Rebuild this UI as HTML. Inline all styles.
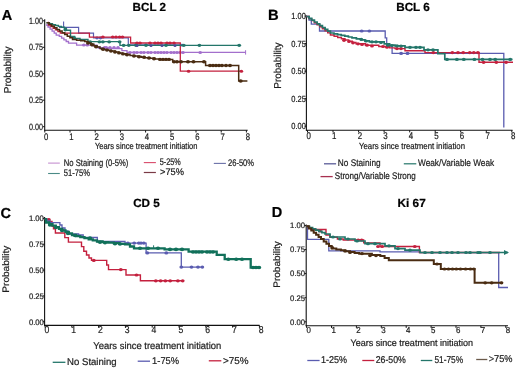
<!DOCTYPE html>
<html><head><meta charset="utf-8"><style>
html,body{margin:0;padding:0;background:#fff;}
svg{display:block;filter:blur(0.35px);}
text{font-family:"Liberation Sans", sans-serif;stroke:currentColor;stroke-width:0.22px;text-rendering:geometricPrecision;}
</style></head><body>
<svg width="520" height="368" viewBox="0 0 520 368">
<rect width="520" height="368" fill="#fff"/>
<text x="1.7" y="19.5" font-size="14.5" font-weight="bold" fill="#000" color="#000">A</text>
<text x="132.6" y="10.9" font-size="11.8" textLength="33.4" lengthAdjust="spacingAndGlyphs" font-weight="bold" fill="#000" color="#000">BCL 2</text>
<line x1="44.7" y1="19.2" x2="44.7" y2="130.8" stroke="#111" stroke-width="1.1"/>
<line x1="44.2" y1="130.3" x2="247.7" y2="130.3" stroke="#111" stroke-width="1.1"/>
<line x1="42.9" y1="20.8" x2="44.7" y2="20.8" stroke="#111" stroke-width="1.0"/>
<text x="43.1" y="23.9" font-size="9.0" text-anchor="end" textLength="14.0" lengthAdjust="spacingAndGlyphs" fill="#1e1e1e" color="#1e1e1e">1.00</text>
<line x1="42.9" y1="47.3" x2="44.7" y2="47.3" stroke="#111" stroke-width="1.0"/>
<text x="43.1" y="50.4" font-size="9.0" text-anchor="end" textLength="14.0" lengthAdjust="spacingAndGlyphs" fill="#1e1e1e" color="#1e1e1e">0.75</text>
<line x1="42.9" y1="73.8" x2="44.7" y2="73.8" stroke="#111" stroke-width="1.0"/>
<text x="43.1" y="76.9" font-size="9.0" text-anchor="end" textLength="14.0" lengthAdjust="spacingAndGlyphs" fill="#1e1e1e" color="#1e1e1e">0.50</text>
<line x1="42.9" y1="100.2" x2="44.7" y2="100.2" stroke="#111" stroke-width="1.0"/>
<text x="43.1" y="103.4" font-size="9.0" text-anchor="end" textLength="14.0" lengthAdjust="spacingAndGlyphs" fill="#1e1e1e" color="#1e1e1e">0.25</text>
<line x1="42.9" y1="126.7" x2="44.7" y2="126.7" stroke="#111" stroke-width="1.0"/>
<text x="43.1" y="129.8" font-size="9.0" text-anchor="end" textLength="14.0" lengthAdjust="spacingAndGlyphs" fill="#1e1e1e" color="#1e1e1e">0.00</text>
<line x1="44.8" y1="130.3" x2="44.8" y2="132.5" stroke="#111" stroke-width="1.0"/>
<text x="46.2" y="139.9" font-size="9.5" text-anchor="middle" textLength="4.3" lengthAdjust="spacingAndGlyphs" fill="#1e1e1e" color="#1e1e1e">0</text>
<line x1="70.0" y1="130.3" x2="70.0" y2="132.5" stroke="#111" stroke-width="1.0"/>
<text x="71.4" y="139.9" font-size="9.5" text-anchor="middle" textLength="4.3" lengthAdjust="spacingAndGlyphs" fill="#1e1e1e" color="#1e1e1e">1</text>
<line x1="95.2" y1="130.3" x2="95.2" y2="132.5" stroke="#111" stroke-width="1.0"/>
<text x="96.6" y="139.9" font-size="9.5" text-anchor="middle" textLength="4.3" lengthAdjust="spacingAndGlyphs" fill="#1e1e1e" color="#1e1e1e">2</text>
<line x1="120.4" y1="130.3" x2="120.4" y2="132.5" stroke="#111" stroke-width="1.0"/>
<text x="121.8" y="139.9" font-size="9.5" text-anchor="middle" textLength="4.3" lengthAdjust="spacingAndGlyphs" fill="#1e1e1e" color="#1e1e1e">3</text>
<line x1="145.6" y1="130.3" x2="145.6" y2="132.5" stroke="#111" stroke-width="1.0"/>
<text x="147.0" y="139.9" font-size="9.5" text-anchor="middle" textLength="4.3" lengthAdjust="spacingAndGlyphs" fill="#1e1e1e" color="#1e1e1e">4</text>
<line x1="170.8" y1="130.3" x2="170.8" y2="132.5" stroke="#111" stroke-width="1.0"/>
<text x="172.2" y="139.9" font-size="9.5" text-anchor="middle" textLength="4.3" lengthAdjust="spacingAndGlyphs" fill="#1e1e1e" color="#1e1e1e">5</text>
<line x1="196.0" y1="130.3" x2="196.0" y2="132.5" stroke="#111" stroke-width="1.0"/>
<text x="197.4" y="139.9" font-size="9.5" text-anchor="middle" textLength="4.3" lengthAdjust="spacingAndGlyphs" fill="#1e1e1e" color="#1e1e1e">6</text>
<line x1="221.2" y1="130.3" x2="221.2" y2="132.5" stroke="#111" stroke-width="1.0"/>
<text x="222.6" y="139.9" font-size="9.5" text-anchor="middle" textLength="4.3" lengthAdjust="spacingAndGlyphs" fill="#1e1e1e" color="#1e1e1e">7</text>
<line x1="246.4" y1="130.3" x2="246.4" y2="132.5" stroke="#111" stroke-width="1.0"/>
<text x="247.8" y="139.9" font-size="9.5" text-anchor="middle" textLength="4.3" lengthAdjust="spacingAndGlyphs" fill="#1e1e1e" color="#1e1e1e">8</text>
<text x="95.0" y="149.4" font-size="8.9" textLength="102.5" lengthAdjust="spacingAndGlyphs" fill="#1e1e1e" color="#1e1e1e">Years since treatment initiation</text>
<text transform="translate(10.6,69.9) rotate(-90) scale(1,1.0)" x="0" y="0" font-size="10" text-anchor="middle" textLength="46.8" lengthAdjust="spacingAndGlyphs" fill="#1e1e1e" color="#1e1e1e">Probability</text>
<line x1="48.1" y1="163.1" x2="59.8" y2="163.1" stroke="#c48fd0" stroke-width="1.1"/>
<text x="63.8" y="165.8" font-size="9.6" textLength="64.6" lengthAdjust="spacingAndGlyphs" fill="#1e1e1e" color="#1e1e1e">No Staining (0-5%)</text>
<line x1="48.1" y1="173.5" x2="59.8" y2="173.5" stroke="#4a8a86" stroke-width="1.1"/>
<text x="63.8" y="176.0" font-size="9.6" textLength="26.2" lengthAdjust="spacingAndGlyphs" fill="#1e1e1e" color="#1e1e1e">51-75%</text>
<line x1="143.8" y1="162.6" x2="155.9" y2="162.6" stroke="#d84a6a" stroke-width="1.1"/>
<text x="159.8" y="165.3" font-size="9.6" textLength="21.0" lengthAdjust="spacingAndGlyphs" fill="#1e1e1e" color="#1e1e1e">5-25%</text>
<line x1="143.8" y1="172.5" x2="155.9" y2="172.5" stroke="#7a3a45" stroke-width="1.2"/>
<text x="160.0" y="175.3" font-size="9.6" textLength="24.0" lengthAdjust="spacingAndGlyphs" fill="#1e1e1e" color="#1e1e1e">&gt;75%</text>
<line x1="213.8" y1="163.4" x2="225.9" y2="163.4" stroke="#6a70a8" stroke-width="1.1"/>
<text x="228.0" y="165.6" font-size="9.6" textLength="26.0" lengthAdjust="spacingAndGlyphs" fill="#1e1e1e" color="#1e1e1e">26-50%</text>
<line x1="63.6" y1="21.5" x2="63.6" y2="27.3" stroke="#5a5cb0" stroke-width="1.1"/>
<path d="M59.0,27.3 H78.6 V33.2 H93.5 V37.9 H128.3 V44.8 H182.0 V44.8" fill="none" stroke="#5a5cb0" stroke-width="1.2" stroke-linejoin="miter" opacity="1"/>
<ellipse cx="97.0" cy="38.0" rx="1.68" ry="1.40" fill="#5a5cb0"/>
<ellipse cx="100.5" cy="38.0" rx="1.68" ry="1.40" fill="#5a5cb0"/>
<ellipse cx="136.0" cy="44.8" rx="1.68" ry="1.40" fill="#5a5cb0"/>
<ellipse cx="146.0" cy="44.8" rx="1.68" ry="1.40" fill="#5a5cb0"/>
<ellipse cx="182.0" cy="45.2" rx="1.68" ry="1.40" fill="#5a5cb0"/>
<path d="M46.0,25.0 H48.0 V27.0 H50.1 V29.1 H52.1 V31.1 H54.2 V33.2 H56.2 V35.2 H59.3 V36.4 H61.6 V38.1 H63.9 V39.8 H66.2 V41.5 H68.5 V43.2 H76.6 V45.1 H97.0 V47.6 H108.0 V48.6 H121.9 V50.7 H127.0 V52.4 H245.6 V52.4" fill="none" stroke="#a36fcc" stroke-width="1.3" stroke-linejoin="miter" opacity="1"/>
<ellipse cx="83.8" cy="45.1" rx="1.80" ry="1.50" fill="#a36fcc"/>
<ellipse cx="87.3" cy="45.1" rx="1.80" ry="1.50" fill="#a36fcc"/>
<ellipse cx="92.5" cy="45.1" rx="1.80" ry="1.50" fill="#a36fcc"/>
<ellipse cx="99.4" cy="47.5" rx="1.80" ry="1.50" fill="#a36fcc"/>
<ellipse cx="104.6" cy="47.5" rx="1.80" ry="1.50" fill="#a36fcc"/>
<ellipse cx="106.3" cy="47.5" rx="1.80" ry="1.50" fill="#a36fcc"/>
<ellipse cx="110.0" cy="47.5" rx="1.80" ry="1.50" fill="#a36fcc"/>
<ellipse cx="114.0" cy="47.5" rx="1.80" ry="1.50" fill="#a36fcc"/>
<ellipse cx="118.0" cy="47.5" rx="1.80" ry="1.50" fill="#a36fcc"/>
<ellipse cx="130.0" cy="52.4" rx="1.80" ry="1.50" fill="#a36fcc"/>
<ellipse cx="134.0" cy="52.4" rx="1.80" ry="1.50" fill="#a36fcc"/>
<ellipse cx="137.0" cy="52.4" rx="1.80" ry="1.50" fill="#a36fcc"/>
<ellipse cx="141.0" cy="52.4" rx="1.80" ry="1.50" fill="#a36fcc"/>
<ellipse cx="144.0" cy="52.4" rx="1.80" ry="1.50" fill="#a36fcc"/>
<ellipse cx="148.0" cy="52.4" rx="1.80" ry="1.50" fill="#a36fcc"/>
<ellipse cx="151.0" cy="52.4" rx="1.80" ry="1.50" fill="#a36fcc"/>
<ellipse cx="155.0" cy="52.4" rx="1.80" ry="1.50" fill="#a36fcc"/>
<ellipse cx="158.0" cy="52.4" rx="1.80" ry="1.50" fill="#a36fcc"/>
<ellipse cx="161.0" cy="52.4" rx="1.80" ry="1.50" fill="#a36fcc"/>
<ellipse cx="164.0" cy="52.4" rx="1.80" ry="1.50" fill="#a36fcc"/>
<ellipse cx="167.0" cy="52.4" rx="1.80" ry="1.50" fill="#a36fcc"/>
<ellipse cx="171.0" cy="52.4" rx="1.80" ry="1.50" fill="#a36fcc"/>
<ellipse cx="174.0" cy="52.4" rx="1.80" ry="1.50" fill="#a36fcc"/>
<ellipse cx="177.0" cy="52.4" rx="1.80" ry="1.50" fill="#a36fcc"/>
<ellipse cx="180.0" cy="52.4" rx="1.80" ry="1.50" fill="#a36fcc"/>
<ellipse cx="183.0" cy="52.4" rx="1.80" ry="1.50" fill="#a36fcc"/>
<ellipse cx="200.2" cy="52.4" rx="1.80" ry="1.50" fill="#a36fcc"/>
<line x1="245.6" y1="50.2" x2="245.6" y2="54.6" stroke="#a36fcc" stroke-width="1.0"/>
<path d="M48.4,21.8 H48.4 V25.0 H50.8 V26.6 H53.2 V28.3 H55.5 V29.9 H57.9 V31.6 H60.3 V33.2 H89.4 V37.1 H130.6 V43.0 H180.3 V71.2 H241.4 V71.2" fill="none" stroke="#c4203e" stroke-width="1.3" stroke-linejoin="miter" opacity="1"/>
<ellipse cx="102.9" cy="37.0" rx="1.80" ry="1.50" fill="#c4203e"/>
<ellipse cx="112.7" cy="37.0" rx="1.80" ry="1.50" fill="#c4203e"/>
<ellipse cx="116.0" cy="37.0" rx="1.80" ry="1.50" fill="#c4203e"/>
<ellipse cx="119.6" cy="37.0" rx="1.80" ry="1.50" fill="#c4203e"/>
<ellipse cx="122.5" cy="37.0" rx="1.80" ry="1.50" fill="#c4203e"/>
<ellipse cx="137.0" cy="43.0" rx="1.80" ry="1.50" fill="#c4203e"/>
<ellipse cx="140.0" cy="43.0" rx="1.80" ry="1.50" fill="#c4203e"/>
<ellipse cx="150.0" cy="43.0" rx="1.80" ry="1.50" fill="#c4203e"/>
<ellipse cx="155.0" cy="43.0" rx="1.80" ry="1.50" fill="#c4203e"/>
<ellipse cx="158.0" cy="43.0" rx="1.80" ry="1.50" fill="#c4203e"/>
<ellipse cx="161.0" cy="43.0" rx="1.80" ry="1.50" fill="#c4203e"/>
<ellipse cx="167.0" cy="43.0" rx="1.80" ry="1.50" fill="#c4203e"/>
<ellipse cx="170.0" cy="43.0" rx="1.80" ry="1.50" fill="#c4203e"/>
<ellipse cx="174.0" cy="43.0" rx="1.80" ry="1.50" fill="#c4203e"/>
<ellipse cx="188.6" cy="71.2" rx="1.80" ry="1.50" fill="#c4203e"/>
<ellipse cx="241.4" cy="71.2" rx="1.80" ry="1.50" fill="#c4203e"/>
<path d="M46.5,22.8 H49.5 V23.7 H52.5 V24.6 H55.5 V25.5 H58.4 V26.4 H61.4 V27.3 H64.4 V28.2 H66.4 V30.3 H70.5 V36.4 H74.6 V38.5 H80.0 V39.5 H88.0 V41.6 H120.0 V45.4 H239.2 V45.4" fill="none" stroke="#23766a" stroke-width="1.4" stroke-linejoin="miter" opacity="1"/>
<ellipse cx="65.3" cy="29.8" rx="1.92" ry="1.60" fill="#23766a"/>
<ellipse cx="74.0" cy="37.5" rx="1.92" ry="1.60" fill="#23766a"/>
<ellipse cx="90.2" cy="41.8" rx="1.92" ry="1.60" fill="#23766a"/>
<ellipse cx="99.4" cy="41.8" rx="1.92" ry="1.60" fill="#23766a"/>
<ellipse cx="102.9" cy="41.8" rx="1.92" ry="1.60" fill="#23766a"/>
<ellipse cx="109.2" cy="41.8" rx="1.92" ry="1.60" fill="#23766a"/>
<ellipse cx="119.6" cy="41.8" rx="1.92" ry="1.60" fill="#23766a"/>
<ellipse cx="123.6" cy="45.3" rx="1.92" ry="1.60" fill="#23766a"/>
<ellipse cx="128.8" cy="45.3" rx="1.92" ry="1.60" fill="#23766a"/>
<ellipse cx="136.0" cy="45.3" rx="1.92" ry="1.60" fill="#23766a"/>
<ellipse cx="146.0" cy="45.3" rx="1.92" ry="1.60" fill="#23766a"/>
<ellipse cx="166.0" cy="45.3" rx="1.92" ry="1.60" fill="#23766a"/>
<ellipse cx="183.8" cy="45.3" rx="1.92" ry="1.60" fill="#23766a"/>
<ellipse cx="199.4" cy="45.3" rx="1.92" ry="1.60" fill="#23766a"/>
<ellipse cx="239.2" cy="45.3" rx="1.92" ry="1.60" fill="#23766a"/>
<ellipse cx="137.0" cy="45.7" rx="1.56" ry="1.30" fill="#4a4a98"/>
<ellipse cx="151.0" cy="45.7" rx="1.56" ry="1.30" fill="#4a4a98"/>
<ellipse cx="162.0" cy="45.7" rx="1.56" ry="1.30" fill="#4a4a98"/>
<ellipse cx="175.0" cy="45.7" rx="1.56" ry="1.30" fill="#4a4a98"/>
<path d="M46.5,22.8 H49.1 V24.5 H51.7 V26.1 H54.3 V27.8 H56.9 V29.5 H59.5 V31.1 H62.1 V32.8 H64.7 V34.5 H67.3 V36.2 H69.9 V37.8 H72.5 V39.5 H76.6 V40.2 H80.7 V40.8 H84.8 V41.5 H87.8 V42.9 H90.9 V44.3 H93.9 V45.7 H97.0 V47.1 H100.0 V48.5 H103.8 V49.4 H107.5 V50.2 H111.2 V51.1 H115.0 V52.0 H118.8 V52.9 H122.5 V53.8 H126.2 V54.6 H130.0 V55.5 H133.8 V56.1 H137.5 V56.6 H141.2 V57.2 H145.0 V57.8 H149.9 V58.3 H154.7 V58.9 H159.6 V59.4 H172.7 V61.8 H205.6 V65.5 H238.7 V81.0 H247.4 V81.0" fill="none" stroke="#4a2c12" stroke-width="1.5" stroke-linejoin="miter" opacity="1"/>
<ellipse cx="88.0" cy="43.0" rx="2.04" ry="1.70" fill="#4a2c12"/>
<ellipse cx="92.0" cy="44.8" rx="2.04" ry="1.70" fill="#4a2c12"/>
<ellipse cx="96.0" cy="46.7" rx="2.04" ry="1.70" fill="#4a2c12"/>
<ellipse cx="103.0" cy="49.2" rx="2.04" ry="1.70" fill="#4a2c12"/>
<ellipse cx="107.0" cy="50.1" rx="2.04" ry="1.70" fill="#4a2c12"/>
<ellipse cx="111.0" cy="51.1" rx="2.04" ry="1.70" fill="#4a2c12"/>
<ellipse cx="115.0" cy="52.0" rx="2.04" ry="1.70" fill="#4a2c12"/>
<ellipse cx="119.0" cy="52.9" rx="2.04" ry="1.70" fill="#4a2c12"/>
<ellipse cx="123.0" cy="53.9" rx="2.04" ry="1.70" fill="#4a2c12"/>
<ellipse cx="127.0" cy="54.8" rx="2.04" ry="1.70" fill="#4a2c12"/>
<ellipse cx="134.0" cy="56.0" rx="2.04" ry="1.70" fill="#4a2c12"/>
<ellipse cx="139.0" cy="56.7" rx="2.04" ry="1.70" fill="#4a2c12"/>
<ellipse cx="144.0" cy="57.3" rx="2.04" ry="1.70" fill="#4a2c12"/>
<ellipse cx="149.0" cy="58.0" rx="2.04" ry="1.70" fill="#4a2c12"/>
<ellipse cx="154.0" cy="58.7" rx="2.04" ry="1.70" fill="#4a2c12"/>
<ellipse cx="160.0" cy="59.4" rx="2.04" ry="1.70" fill="#4a2c12"/>
<ellipse cx="163.0" cy="59.4" rx="2.04" ry="1.70" fill="#4a2c12"/>
<ellipse cx="166.0" cy="59.4" rx="2.04" ry="1.70" fill="#4a2c12"/>
<ellipse cx="169.0" cy="59.4" rx="2.04" ry="1.70" fill="#4a2c12"/>
<ellipse cx="174.0" cy="61.8" rx="2.04" ry="1.70" fill="#4a2c12"/>
<ellipse cx="177.0" cy="61.8" rx="2.04" ry="1.70" fill="#4a2c12"/>
<ellipse cx="181.0" cy="61.8" rx="2.04" ry="1.70" fill="#4a2c12"/>
<ellipse cx="188.0" cy="61.8" rx="2.04" ry="1.70" fill="#4a2c12"/>
<ellipse cx="193.5" cy="61.8" rx="2.04" ry="1.70" fill="#4a2c12"/>
<ellipse cx="204.0" cy="61.8" rx="2.04" ry="1.70" fill="#4a2c12"/>
<ellipse cx="210.0" cy="65.5" rx="2.04" ry="1.70" fill="#4a2c12"/>
<ellipse cx="213.0" cy="65.5" rx="2.04" ry="1.70" fill="#4a2c12"/>
<ellipse cx="216.0" cy="65.5" rx="2.04" ry="1.70" fill="#4a2c12"/>
<ellipse cx="219.0" cy="65.5" rx="2.04" ry="1.70" fill="#4a2c12"/>
<ellipse cx="222.0" cy="65.5" rx="2.04" ry="1.70" fill="#4a2c12"/>
<ellipse cx="226.0" cy="65.5" rx="2.04" ry="1.70" fill="#4a2c12"/>
<ellipse cx="230.0" cy="65.5" rx="2.04" ry="1.70" fill="#4a2c12"/>
<ellipse cx="240.7" cy="81.0" rx="2.04" ry="1.70" fill="#4a2c12"/>
<text x="267.9" y="19.8" font-size="14.8" font-weight="bold" fill="#000" color="#000">B</text>
<text x="396.2" y="11.1" font-size="11.8" textLength="33.6" lengthAdjust="spacingAndGlyphs" font-weight="bold" fill="#000" color="#000">BCL 6</text>
<line x1="306.4" y1="15.4" x2="306.4" y2="130.7" stroke="#111" stroke-width="1.1"/>
<line x1="305.9" y1="130.2" x2="512.6" y2="130.2" stroke="#111" stroke-width="1.1"/>
<line x1="304.6" y1="16.1" x2="306.4" y2="16.1" stroke="#111" stroke-width="1.0"/>
<text x="305.9" y="19.2" font-size="8.8" text-anchor="end" textLength="14.6" lengthAdjust="spacingAndGlyphs" fill="#1e1e1e" color="#1e1e1e">1.00</text>
<line x1="304.6" y1="43.6" x2="306.4" y2="43.6" stroke="#111" stroke-width="1.0"/>
<text x="305.9" y="46.7" font-size="8.8" text-anchor="end" textLength="14.6" lengthAdjust="spacingAndGlyphs" fill="#1e1e1e" color="#1e1e1e">0.75</text>
<line x1="304.6" y1="71.2" x2="306.4" y2="71.2" stroke="#111" stroke-width="1.0"/>
<text x="305.9" y="74.2" font-size="8.8" text-anchor="end" textLength="14.6" lengthAdjust="spacingAndGlyphs" fill="#1e1e1e" color="#1e1e1e">0.50</text>
<line x1="304.6" y1="98.7" x2="306.4" y2="98.7" stroke="#111" stroke-width="1.0"/>
<text x="305.9" y="101.8" font-size="8.8" text-anchor="end" textLength="14.6" lengthAdjust="spacingAndGlyphs" fill="#1e1e1e" color="#1e1e1e">0.25</text>
<line x1="304.6" y1="126.2" x2="306.4" y2="126.2" stroke="#111" stroke-width="1.0"/>
<text x="305.9" y="129.3" font-size="8.8" text-anchor="end" textLength="14.6" lengthAdjust="spacingAndGlyphs" fill="#1e1e1e" color="#1e1e1e">0.00</text>
<line x1="307.5" y1="130.2" x2="307.5" y2="132.4" stroke="#111" stroke-width="1.0"/>
<text x="308.8" y="139.3" font-size="9.7" text-anchor="middle" textLength="4.4" lengthAdjust="spacingAndGlyphs" fill="#1e1e1e" color="#1e1e1e">0</text>
<line x1="333.0" y1="130.2" x2="333.0" y2="132.4" stroke="#111" stroke-width="1.0"/>
<text x="334.3" y="139.3" font-size="9.7" text-anchor="middle" textLength="4.4" lengthAdjust="spacingAndGlyphs" fill="#1e1e1e" color="#1e1e1e">1</text>
<line x1="358.6" y1="130.2" x2="358.6" y2="132.4" stroke="#111" stroke-width="1.0"/>
<text x="359.9" y="139.3" font-size="9.7" text-anchor="middle" textLength="4.4" lengthAdjust="spacingAndGlyphs" fill="#1e1e1e" color="#1e1e1e">2</text>
<line x1="384.1" y1="130.2" x2="384.1" y2="132.4" stroke="#111" stroke-width="1.0"/>
<text x="385.4" y="139.3" font-size="9.7" text-anchor="middle" textLength="4.4" lengthAdjust="spacingAndGlyphs" fill="#1e1e1e" color="#1e1e1e">3</text>
<line x1="409.7" y1="130.2" x2="409.7" y2="132.4" stroke="#111" stroke-width="1.0"/>
<text x="411.0" y="139.3" font-size="9.7" text-anchor="middle" textLength="4.4" lengthAdjust="spacingAndGlyphs" fill="#1e1e1e" color="#1e1e1e">4</text>
<line x1="435.2" y1="130.2" x2="435.2" y2="132.4" stroke="#111" stroke-width="1.0"/>
<text x="436.5" y="139.3" font-size="9.7" text-anchor="middle" textLength="4.4" lengthAdjust="spacingAndGlyphs" fill="#1e1e1e" color="#1e1e1e">5</text>
<line x1="460.7" y1="130.2" x2="460.7" y2="132.4" stroke="#111" stroke-width="1.0"/>
<text x="462.0" y="139.3" font-size="9.7" text-anchor="middle" textLength="4.4" lengthAdjust="spacingAndGlyphs" fill="#1e1e1e" color="#1e1e1e">6</text>
<line x1="486.3" y1="130.2" x2="486.3" y2="132.4" stroke="#111" stroke-width="1.0"/>
<text x="487.6" y="139.3" font-size="9.7" text-anchor="middle" textLength="4.4" lengthAdjust="spacingAndGlyphs" fill="#1e1e1e" color="#1e1e1e">7</text>
<line x1="511.8" y1="130.2" x2="511.8" y2="132.4" stroke="#111" stroke-width="1.0"/>
<text x="513.1" y="139.3" font-size="9.7" text-anchor="middle" textLength="4.4" lengthAdjust="spacingAndGlyphs" fill="#1e1e1e" color="#1e1e1e">8</text>
<text x="359.0" y="149.2" font-size="8.9" textLength="106.0" lengthAdjust="spacingAndGlyphs" fill="#1e1e1e" color="#1e1e1e">Years since treatment initiation</text>
<text transform="translate(280.6,65.6) rotate(-90) scale(1,1.0)" x="0" y="0" font-size="10" text-anchor="middle" textLength="46.2" lengthAdjust="spacingAndGlyphs" fill="#1e1e1e" color="#1e1e1e">Probability</text>
<line x1="324.0" y1="163.8" x2="336.1" y2="163.8" stroke="#5a5c98" stroke-width="1.3"/>
<text x="337.8" y="165.9" font-size="9.6" textLength="42.8" lengthAdjust="spacingAndGlyphs" fill="#1e1e1e" color="#1e1e1e">No Staining</text>
<line x1="403.8" y1="163.8" x2="416.3" y2="163.8" stroke="#23766a" stroke-width="1.2"/>
<text x="418.0" y="166.0" font-size="9.6" textLength="76.2" lengthAdjust="spacingAndGlyphs" fill="#1e1e1e" color="#1e1e1e">Weak/Variable Weak</text>
<line x1="320.5" y1="176.6" x2="332.7" y2="176.6" stroke="#a83050" stroke-width="1.3"/>
<text x="334.8" y="178.6" font-size="9.6" textLength="81.0" lengthAdjust="spacingAndGlyphs" fill="#1e1e1e" color="#1e1e1e">Strong/Variable Strong</text>
<path d="M306.4,16.5 H309.0 V20.0 H311.3 V24.2 H319.5 V31.0 H385.2 V37.9 H386.7 V46.0 H392.1 V53.4 H503.8 V127.5" fill="none" stroke="#5a5cb0" stroke-width="1.3" stroke-linejoin="miter" opacity="1"/>
<ellipse cx="361.7" cy="31.0" rx="1.92" ry="1.60" fill="#5a5cb0"/>
<ellipse cx="369.4" cy="31.0" rx="1.92" ry="1.60" fill="#5a5cb0"/>
<ellipse cx="401.1" cy="53.4" rx="1.92" ry="1.60" fill="#5a5cb0"/>
<ellipse cx="407.5" cy="53.4" rx="1.92" ry="1.60" fill="#5a5cb0"/>
<path d="M306.4,16.5 H309.1 V18.6 H311.7 V20.6 H314.4 V22.7 H317.1 V24.7 H319.7 V26.8 H322.4 V28.8 H325.1 V30.9 H327.7 V32.9 H330.4 V35.0 H334.1 V36.3 H337.7 V37.5 H341.4 V38.8 H345.0 V40.0 H348.7 V41.3 H352.3 V42.5 H356.0 V43.8 H365.4 V45.2 H378.8 V46.5 H389.6 V47.9 H395.0 V48.6 H405.0 V50.8 H425.0 V52.6 H479.0 V62.3 H513.0 V62.3" fill="none" stroke="#c4203e" stroke-width="1.4" stroke-linejoin="miter" opacity="1"/>
<ellipse cx="344.0" cy="40.3" rx="1.92" ry="1.60" fill="#c4203e"/>
<ellipse cx="349.0" cy="41.5" rx="1.92" ry="1.60" fill="#c4203e"/>
<ellipse cx="353.0" cy="42.8" rx="1.92" ry="1.60" fill="#c4203e"/>
<ellipse cx="358.0" cy="43.8" rx="1.92" ry="1.60" fill="#c4203e"/>
<ellipse cx="362.0" cy="44.5" rx="1.92" ry="1.60" fill="#c4203e"/>
<ellipse cx="367.0" cy="45.2" rx="1.92" ry="1.60" fill="#c4203e"/>
<ellipse cx="372.0" cy="46.0" rx="1.92" ry="1.60" fill="#c4203e"/>
<ellipse cx="383.0" cy="46.5" rx="1.92" ry="1.60" fill="#c4203e"/>
<ellipse cx="387.0" cy="47.2" rx="1.92" ry="1.60" fill="#c4203e"/>
<ellipse cx="397.0" cy="48.6" rx="1.92" ry="1.60" fill="#c4203e"/>
<ellipse cx="401.0" cy="48.6" rx="1.92" ry="1.60" fill="#c4203e"/>
<ellipse cx="433.3" cy="52.6" rx="1.92" ry="1.60" fill="#c4203e"/>
<ellipse cx="452.3" cy="52.6" rx="1.92" ry="1.60" fill="#c4203e"/>
<ellipse cx="458.0" cy="52.6" rx="1.92" ry="1.60" fill="#c4203e"/>
<ellipse cx="463.2" cy="52.6" rx="1.92" ry="1.60" fill="#c4203e"/>
<ellipse cx="469.8" cy="52.6" rx="1.92" ry="1.60" fill="#c4203e"/>
<ellipse cx="473.8" cy="52.6" rx="1.92" ry="1.60" fill="#c4203e"/>
<ellipse cx="477.9" cy="52.6" rx="1.92" ry="1.60" fill="#c4203e"/>
<ellipse cx="483.6" cy="62.3" rx="1.92" ry="1.60" fill="#c4203e"/>
<ellipse cx="496.3" cy="62.3" rx="1.92" ry="1.60" fill="#c4203e"/>
<ellipse cx="506.1" cy="62.3" rx="1.92" ry="1.60" fill="#c4203e"/>
<path d="M306.4,16.5 H309.1 V18.3 H311.7 V20.2 H314.4 V22.0 H317.1 V23.8 H319.7 V25.7 H322.4 V27.5 H325.1 V29.3 H327.7 V31.2 H330.4 V33.0 H334.0 V33.8 H337.6 V34.6 H341.2 V35.4 H344.8 V36.2 H348.4 V37.0 H352.0 V37.8 H356.4 V38.8 H360.7 V39.8 H365.0 V40.8 H369.4 V41.8 H378.8 V41.8 H384.2 V43.8 H389.6 V45.2 H395.0 V45.9 H405.0 V47.3 H424.0 V49.8 H437.9 V53.6 H444.8 V59.4 H512.5 V59.4" fill="none" stroke="#23766a" stroke-width="1.7" stroke-linejoin="miter" opacity="1"/>
<ellipse cx="361.3" cy="39.3" rx="1.92" ry="1.60" fill="#23766a"/>
<ellipse cx="366.0" cy="41.0" rx="1.92" ry="1.60" fill="#23766a"/>
<ellipse cx="372.0" cy="41.8" rx="1.92" ry="1.60" fill="#23766a"/>
<ellipse cx="376.0" cy="41.8" rx="1.92" ry="1.60" fill="#23766a"/>
<ellipse cx="381.0" cy="42.5" rx="1.92" ry="1.60" fill="#23766a"/>
<ellipse cx="388.0" cy="45.2" rx="1.92" ry="1.60" fill="#23766a"/>
<ellipse cx="392.0" cy="45.5" rx="1.92" ry="1.60" fill="#23766a"/>
<ellipse cx="397.0" cy="45.9" rx="1.92" ry="1.60" fill="#23766a"/>
<ellipse cx="401.0" cy="46.0" rx="1.92" ry="1.60" fill="#23766a"/>
<ellipse cx="410.0" cy="47.3" rx="1.92" ry="1.60" fill="#23766a"/>
<ellipse cx="416.0" cy="47.3" rx="1.92" ry="1.60" fill="#23766a"/>
<ellipse cx="420.0" cy="47.3" rx="1.92" ry="1.60" fill="#23766a"/>
<ellipse cx="428.0" cy="49.8" rx="1.92" ry="1.60" fill="#23766a"/>
<ellipse cx="433.0" cy="49.8" rx="1.92" ry="1.60" fill="#23766a"/>
<ellipse cx="447.0" cy="59.4" rx="1.92" ry="1.60" fill="#23766a"/>
<ellipse cx="456.9" cy="59.4" rx="1.92" ry="1.60" fill="#23766a"/>
<ellipse cx="463.8" cy="59.4" rx="1.92" ry="1.60" fill="#23766a"/>
<ellipse cx="474.4" cy="59.4" rx="1.92" ry="1.60" fill="#23766a"/>
<ellipse cx="482.5" cy="59.4" rx="1.92" ry="1.60" fill="#23766a"/>
<ellipse cx="490.0" cy="59.4" rx="1.92" ry="1.60" fill="#23766a"/>
<ellipse cx="495.2" cy="59.4" rx="1.92" ry="1.60" fill="#23766a"/>
<ellipse cx="510.2" cy="59.4" rx="1.92" ry="1.60" fill="#23766a"/>
<text x="0.4" y="217.9" font-size="14.5" font-weight="bold" fill="#000" color="#000">C</text>
<text x="133.2" y="206.9" font-size="11.8" textLength="26.6" lengthAdjust="spacingAndGlyphs" font-weight="bold" fill="#000" color="#000">CD 5</text>
<line x1="44.6" y1="216.9" x2="44.6" y2="325.9" stroke="#111" stroke-width="1.1"/>
<line x1="44.1" y1="325.4" x2="259.6" y2="325.4" stroke="#111" stroke-width="1.1"/>
<line x1="42.8" y1="218.4" x2="44.6" y2="218.4" stroke="#111" stroke-width="1.0"/>
<text x="43.9" y="221.2" font-size="8.0" text-anchor="end" textLength="15.0" lengthAdjust="spacingAndGlyphs" fill="#1e1e1e" color="#1e1e1e">1.00</text>
<line x1="42.8" y1="244.2" x2="44.6" y2="244.2" stroke="#111" stroke-width="1.0"/>
<text x="43.9" y="247.0" font-size="8.0" text-anchor="end" textLength="15.0" lengthAdjust="spacingAndGlyphs" fill="#1e1e1e" color="#1e1e1e">0.75</text>
<line x1="42.8" y1="270.1" x2="44.6" y2="270.1" stroke="#111" stroke-width="1.0"/>
<text x="43.9" y="272.9" font-size="8.0" text-anchor="end" textLength="15.0" lengthAdjust="spacingAndGlyphs" fill="#1e1e1e" color="#1e1e1e">0.50</text>
<line x1="42.8" y1="295.9" x2="44.6" y2="295.9" stroke="#111" stroke-width="1.0"/>
<text x="43.9" y="298.7" font-size="8.0" text-anchor="end" textLength="15.0" lengthAdjust="spacingAndGlyphs" fill="#1e1e1e" color="#1e1e1e">0.25</text>
<line x1="42.8" y1="321.7" x2="44.6" y2="321.7" stroke="#111" stroke-width="1.0"/>
<text x="43.9" y="324.5" font-size="8.0" text-anchor="end" textLength="15.0" lengthAdjust="spacingAndGlyphs" fill="#1e1e1e" color="#1e1e1e">0.00</text>
<line x1="45.0" y1="325.4" x2="45.0" y2="327.6" stroke="#111" stroke-width="1.0"/>
<text x="46.8" y="333.4" font-size="10.0" text-anchor="middle" textLength="4.8" lengthAdjust="spacingAndGlyphs" fill="#1e1e1e" color="#1e1e1e">0</text>
<line x1="71.8" y1="325.4" x2="71.8" y2="327.6" stroke="#111" stroke-width="1.0"/>
<text x="73.6" y="333.4" font-size="10.0" text-anchor="middle" textLength="4.8" lengthAdjust="spacingAndGlyphs" fill="#1e1e1e" color="#1e1e1e">1</text>
<line x1="98.6" y1="325.4" x2="98.6" y2="327.6" stroke="#111" stroke-width="1.0"/>
<text x="100.4" y="333.4" font-size="10.0" text-anchor="middle" textLength="4.8" lengthAdjust="spacingAndGlyphs" fill="#1e1e1e" color="#1e1e1e">2</text>
<line x1="125.4" y1="325.4" x2="125.4" y2="327.6" stroke="#111" stroke-width="1.0"/>
<text x="127.2" y="333.4" font-size="10.0" text-anchor="middle" textLength="4.8" lengthAdjust="spacingAndGlyphs" fill="#1e1e1e" color="#1e1e1e">3</text>
<line x1="152.2" y1="325.4" x2="152.2" y2="327.6" stroke="#111" stroke-width="1.0"/>
<text x="154.0" y="333.4" font-size="10.0" text-anchor="middle" textLength="4.8" lengthAdjust="spacingAndGlyphs" fill="#1e1e1e" color="#1e1e1e">4</text>
<line x1="179.0" y1="325.4" x2="179.0" y2="327.6" stroke="#111" stroke-width="1.0"/>
<text x="180.8" y="333.4" font-size="10.0" text-anchor="middle" textLength="4.8" lengthAdjust="spacingAndGlyphs" fill="#1e1e1e" color="#1e1e1e">5</text>
<line x1="205.8" y1="325.4" x2="205.8" y2="327.6" stroke="#111" stroke-width="1.0"/>
<text x="207.6" y="333.4" font-size="10.0" text-anchor="middle" textLength="4.8" lengthAdjust="spacingAndGlyphs" fill="#1e1e1e" color="#1e1e1e">6</text>
<line x1="232.6" y1="325.4" x2="232.6" y2="327.6" stroke="#111" stroke-width="1.0"/>
<text x="234.4" y="333.4" font-size="10.0" text-anchor="middle" textLength="4.8" lengthAdjust="spacingAndGlyphs" fill="#1e1e1e" color="#1e1e1e">7</text>
<line x1="259.4" y1="325.4" x2="259.4" y2="327.6" stroke="#111" stroke-width="1.0"/>
<text x="261.2" y="333.4" font-size="10.0" text-anchor="middle" textLength="4.8" lengthAdjust="spacingAndGlyphs" fill="#1e1e1e" color="#1e1e1e">8</text>
<text x="93.3" y="348.5" font-size="9.8" textLength="128.0" lengthAdjust="spacingAndGlyphs" fill="#1e1e1e" color="#1e1e1e">Years since treatment initiation</text>
<text transform="translate(8.8,269.2) rotate(-90) scale(1,0.95)" x="0" y="0" font-size="10" text-anchor="middle" textLength="46.9" lengthAdjust="spacingAndGlyphs" fill="#1e1e1e" color="#1e1e1e">Probability</text>
<line x1="52.7" y1="362.3" x2="65.4" y2="362.3" stroke="#23766a" stroke-width="1.3"/>
<text x="67.1" y="364.7" font-size="9.8" textLength="49.5" lengthAdjust="spacingAndGlyphs" fill="#1e1e1e" color="#1e1e1e">No Staining</text>
<line x1="137.7" y1="361.2" x2="150.0" y2="361.2" stroke="#5a5cb0" stroke-width="1.3"/>
<text x="152.1" y="363.8" font-size="9.8" textLength="27.0" lengthAdjust="spacingAndGlyphs" fill="#1e1e1e" color="#1e1e1e">1-75%</text>
<line x1="208.8" y1="360.8" x2="221.3" y2="360.8" stroke="#c4203e" stroke-width="1.3"/>
<text x="222.9" y="363.8" font-size="9.8" textLength="25.6" lengthAdjust="spacingAndGlyphs" fill="#1e1e1e" color="#1e1e1e">&gt;75%</text>
<path d="M44.6,219.2 H48.9 V221.5 H52.0 V226.0 H53.5 V228.7 H55.4 V233.0 H64.8 V237.6 H68.4 V242.1 H81.5 V246.6 H83.8 V251.2 H86.5 V255.0 H89.0 V258.0 H91.5 V260.4 H106.7 V265.0 H108.5 V269.6 H126.0 V275.0 H140.4 V280.8 H183.7 V280.8" fill="none" stroke="#c4203e" stroke-width="1.4" stroke-linejoin="miter" opacity="1"/>
<ellipse cx="48.9" cy="219.7" rx="1.92" ry="1.60" fill="#c4203e"/>
<ellipse cx="93.8" cy="260.4" rx="1.92" ry="1.60" fill="#c4203e"/>
<ellipse cx="120.8" cy="269.6" rx="1.92" ry="1.60" fill="#c4203e"/>
<ellipse cx="136.5" cy="275.0" rx="1.92" ry="1.60" fill="#c4203e"/>
<ellipse cx="155.8" cy="280.8" rx="1.92" ry="1.60" fill="#c4203e"/>
<ellipse cx="160.6" cy="280.8" rx="1.92" ry="1.60" fill="#c4203e"/>
<ellipse cx="165.4" cy="280.8" rx="1.92" ry="1.60" fill="#c4203e"/>
<ellipse cx="170.2" cy="280.8" rx="1.92" ry="1.60" fill="#c4203e"/>
<ellipse cx="177.9" cy="280.8" rx="1.92" ry="1.60" fill="#c4203e"/>
<ellipse cx="182.7" cy="280.8" rx="1.92" ry="1.60" fill="#c4203e"/>
<path d="M44.6,219.2 H47.0 V221.0 H50.0 V222.6 H59.9 V225.0 H62.0 V228.0 H65.0 V231.0 H68.0 V234.0 H78.6 V235.0 H83.2 V237.5 H97.3 V241.5 H125.0 V243.1 H146.1 V252.9 H181.3 V267.1 H202.3 V267.1" fill="none" stroke="#5a5cb0" stroke-width="1.3" stroke-linejoin="miter" opacity="1"/>
<ellipse cx="127.9" cy="243.1" rx="1.92" ry="1.60" fill="#5a5cb0"/>
<ellipse cx="134.2" cy="243.1" rx="1.92" ry="1.60" fill="#5a5cb0"/>
<ellipse cx="138.8" cy="243.1" rx="1.92" ry="1.60" fill="#5a5cb0"/>
<ellipse cx="141.0" cy="243.1" rx="1.92" ry="1.60" fill="#5a5cb0"/>
<ellipse cx="143.8" cy="243.1" rx="1.92" ry="1.60" fill="#5a5cb0"/>
<ellipse cx="147.3" cy="252.9" rx="1.92" ry="1.60" fill="#5a5cb0"/>
<ellipse cx="166.3" cy="252.9" rx="1.92" ry="1.60" fill="#5a5cb0"/>
<ellipse cx="181.3" cy="267.1" rx="1.92" ry="1.60" fill="#5a5cb0"/>
<ellipse cx="191.5" cy="267.1" rx="1.92" ry="1.60" fill="#5a5cb0"/>
<ellipse cx="198.0" cy="267.1" rx="1.92" ry="1.60" fill="#5a5cb0"/>
<ellipse cx="202.3" cy="267.1" rx="1.92" ry="1.60" fill="#5a5cb0"/>
<path d="M44.6,219.2 H46.0 V222.5 H49.2 V224.1 H52.5 V225.6 H55.8 V227.2 H59.0 V228.8 H62.2 V230.3 H65.5 V231.9 H68.8 V233.4 H72.0 V235.0 H76.2 V236.1 H80.3 V237.2 H84.5 V238.2 H88.7 V239.3 H92.8 V240.4 H97.0 V241.5 H102.6 V242.1 H108.2 V242.7 H113.8 V243.2 H119.4 V243.8 H125.0 V244.4 H130.0 V246.5 H134.0 V248.3 H164.6 V249.4 H188.6 V251.6 H216.7 V254.9 H224.7 V259.2 H250.7 V267.5 H260.4 V267.5" fill="none" stroke="#11705a" stroke-width="2.3" stroke-linejoin="miter" opacity="1"/>
<ellipse cx="193.0" cy="252.0" rx="2.16" ry="1.80" fill="#11705a"/>
<ellipse cx="196.0" cy="252.0" rx="2.16" ry="1.80" fill="#11705a"/>
<ellipse cx="199.0" cy="252.0" rx="2.16" ry="1.80" fill="#11705a"/>
<ellipse cx="202.0" cy="252.0" rx="2.16" ry="1.80" fill="#11705a"/>
<ellipse cx="207.0" cy="252.0" rx="2.16" ry="1.80" fill="#11705a"/>
<ellipse cx="210.0" cy="252.0" rx="2.16" ry="1.80" fill="#11705a"/>
<ellipse cx="213.0" cy="252.0" rx="2.16" ry="1.80" fill="#11705a"/>
<ellipse cx="228.3" cy="259.2" rx="2.16" ry="1.80" fill="#11705a"/>
<ellipse cx="236.2" cy="259.2" rx="2.16" ry="1.80" fill="#11705a"/>
<ellipse cx="242.0" cy="259.2" rx="2.16" ry="1.80" fill="#11705a"/>
<ellipse cx="253.0" cy="267.5" rx="2.16" ry="1.80" fill="#11705a"/>
<ellipse cx="256.0" cy="267.5" rx="2.16" ry="1.80" fill="#11705a"/>
<ellipse cx="259.0" cy="267.5" rx="2.16" ry="1.80" fill="#11705a"/>
<ellipse cx="50.0" cy="225.0" rx="2.16" ry="1.80" fill="#11705a"/>
<ellipse cx="56.0" cy="227.5" rx="2.16" ry="1.80" fill="#11705a"/>
<ellipse cx="62.0" cy="230.5" rx="2.16" ry="1.80" fill="#11705a"/>
<ellipse cx="68.0" cy="233.5" rx="2.16" ry="1.80" fill="#11705a"/>
<ellipse cx="75.0" cy="235.5" rx="2.16" ry="1.80" fill="#11705a"/>
<ellipse cx="90.0" cy="238.0" rx="2.16" ry="1.80" fill="#11705a"/>
<ellipse cx="100.0" cy="242.3" rx="2.16" ry="1.80" fill="#11705a"/>
<ellipse cx="105.0" cy="242.8" rx="2.16" ry="1.80" fill="#11705a"/>
<ellipse cx="115.0" cy="243.7" rx="2.16" ry="1.80" fill="#11705a"/>
<ellipse cx="120.0" cy="244.0" rx="2.16" ry="1.80" fill="#11705a"/>
<ellipse cx="140.0" cy="248.3" rx="2.16" ry="1.80" fill="#11705a"/>
<ellipse cx="148.0" cy="248.3" rx="2.16" ry="1.80" fill="#11705a"/>
<ellipse cx="158.0" cy="248.3" rx="2.16" ry="1.80" fill="#11705a"/>
<ellipse cx="170.0" cy="249.4" rx="2.16" ry="1.80" fill="#11705a"/>
<ellipse cx="176.0" cy="249.4" rx="2.16" ry="1.80" fill="#11705a"/>
<ellipse cx="182.0" cy="249.4" rx="2.16" ry="1.80" fill="#11705a"/>
<line x1="153.6" y1="245.3" x2="153.6" y2="248.3" stroke="#23766a" stroke-width="1.0"/>
<text x="271.7" y="217.4" font-size="14.5" font-weight="bold" fill="#000" color="#000">D</text>
<text x="397.5" y="207.3" font-size="11.8" textLength="28.2" lengthAdjust="spacingAndGlyphs" font-weight="bold" fill="#000" color="#000">Ki 67</text>
<line x1="306.2" y1="224.6" x2="306.2" y2="326.2" stroke="#111" stroke-width="1.1"/>
<line x1="305.7" y1="325.7" x2="508.0" y2="325.7" stroke="#111" stroke-width="1.1"/>
<line x1="304.4" y1="225.6" x2="306.2" y2="225.6" stroke="#111" stroke-width="1.0"/>
<text x="305.1" y="228.4" font-size="8.0" text-anchor="end" textLength="15.0" lengthAdjust="spacingAndGlyphs" fill="#1e1e1e" color="#1e1e1e">1.00</text>
<line x1="304.4" y1="249.6" x2="306.2" y2="249.6" stroke="#111" stroke-width="1.0"/>
<text x="305.1" y="252.4" font-size="8.0" text-anchor="end" textLength="15.0" lengthAdjust="spacingAndGlyphs" fill="#1e1e1e" color="#1e1e1e">0.75</text>
<line x1="304.4" y1="273.6" x2="306.2" y2="273.6" stroke="#111" stroke-width="1.0"/>
<text x="305.1" y="276.4" font-size="8.0" text-anchor="end" textLength="15.0" lengthAdjust="spacingAndGlyphs" fill="#1e1e1e" color="#1e1e1e">0.50</text>
<line x1="304.4" y1="297.7" x2="306.2" y2="297.7" stroke="#111" stroke-width="1.0"/>
<text x="305.1" y="300.5" font-size="8.0" text-anchor="end" textLength="15.0" lengthAdjust="spacingAndGlyphs" fill="#1e1e1e" color="#1e1e1e">0.25</text>
<line x1="304.4" y1="321.8" x2="306.2" y2="321.8" stroke="#111" stroke-width="1.0"/>
<text x="305.1" y="324.6" font-size="8.0" text-anchor="end" textLength="15.0" lengthAdjust="spacingAndGlyphs" fill="#1e1e1e" color="#1e1e1e">0.00</text>
<line x1="306.6" y1="325.7" x2="306.6" y2="327.9" stroke="#111" stroke-width="1.0"/>
<text x="308.7" y="333.4" font-size="8.6" text-anchor="middle" textLength="4.4" lengthAdjust="spacingAndGlyphs" fill="#1e1e1e" color="#1e1e1e">0</text>
<line x1="331.5" y1="325.7" x2="331.5" y2="327.9" stroke="#111" stroke-width="1.0"/>
<text x="333.6" y="333.4" font-size="8.6" text-anchor="middle" textLength="4.4" lengthAdjust="spacingAndGlyphs" fill="#1e1e1e" color="#1e1e1e">1</text>
<line x1="356.4" y1="325.7" x2="356.4" y2="327.9" stroke="#111" stroke-width="1.0"/>
<text x="358.5" y="333.4" font-size="8.6" text-anchor="middle" textLength="4.4" lengthAdjust="spacingAndGlyphs" fill="#1e1e1e" color="#1e1e1e">2</text>
<line x1="381.3" y1="325.7" x2="381.3" y2="327.9" stroke="#111" stroke-width="1.0"/>
<text x="383.4" y="333.4" font-size="8.6" text-anchor="middle" textLength="4.4" lengthAdjust="spacingAndGlyphs" fill="#1e1e1e" color="#1e1e1e">3</text>
<line x1="406.2" y1="325.7" x2="406.2" y2="327.9" stroke="#111" stroke-width="1.0"/>
<text x="408.3" y="333.4" font-size="8.6" text-anchor="middle" textLength="4.4" lengthAdjust="spacingAndGlyphs" fill="#1e1e1e" color="#1e1e1e">4</text>
<line x1="431.1" y1="325.7" x2="431.1" y2="327.9" stroke="#111" stroke-width="1.0"/>
<text x="433.2" y="333.4" font-size="8.6" text-anchor="middle" textLength="4.4" lengthAdjust="spacingAndGlyphs" fill="#1e1e1e" color="#1e1e1e">5</text>
<line x1="456.0" y1="325.7" x2="456.0" y2="327.9" stroke="#111" stroke-width="1.0"/>
<text x="458.1" y="333.4" font-size="8.6" text-anchor="middle" textLength="4.4" lengthAdjust="spacingAndGlyphs" fill="#1e1e1e" color="#1e1e1e">6</text>
<line x1="480.9" y1="325.7" x2="480.9" y2="327.9" stroke="#111" stroke-width="1.0"/>
<text x="483.0" y="333.4" font-size="8.6" text-anchor="middle" textLength="4.4" lengthAdjust="spacingAndGlyphs" fill="#1e1e1e" color="#1e1e1e">7</text>
<line x1="505.8" y1="325.7" x2="505.8" y2="327.9" stroke="#111" stroke-width="1.0"/>
<text x="507.9" y="333.4" font-size="8.6" text-anchor="middle" textLength="4.4" lengthAdjust="spacingAndGlyphs" fill="#1e1e1e" color="#1e1e1e">8</text>
<text x="350.5" y="346.0" font-size="9.4" textLength="122.6" lengthAdjust="spacingAndGlyphs" fill="#1e1e1e" color="#1e1e1e">Years since treatment initiation</text>
<text transform="translate(280.3,264.4) rotate(-90) scale(1,0.95)" x="0" y="0" font-size="10" text-anchor="middle" textLength="46.5" lengthAdjust="spacingAndGlyphs" fill="#1e1e1e" color="#1e1e1e">Probability</text>
<line x1="307.3" y1="360.5" x2="319.6" y2="360.5" stroke="#5a5cb0" stroke-width="1.3"/>
<text x="321.0" y="363.0" font-size="9.9" textLength="26.0" lengthAdjust="spacingAndGlyphs" fill="#1e1e1e" color="#1e1e1e">1-25%</text>
<line x1="362.3" y1="360.5" x2="374.3" y2="360.5" stroke="#c4203e" stroke-width="1.3"/>
<text x="375.7" y="363.0" font-size="9.9" textLength="30.2" lengthAdjust="spacingAndGlyphs" fill="#1e1e1e" color="#1e1e1e">26-50%</text>
<line x1="420.8" y1="360.5" x2="432.3" y2="360.5" stroke="#23766a" stroke-width="1.3"/>
<text x="434.4" y="363.0" font-size="9.9" textLength="28.8" lengthAdjust="spacingAndGlyphs" fill="#1e1e1e" color="#1e1e1e">51-75%</text>
<line x1="476.2" y1="359.5" x2="487.3" y2="359.5" stroke="#6a5a4a" stroke-width="1.3"/>
<text x="488.7" y="362.0" font-size="9.9" textLength="23.8" lengthAdjust="spacingAndGlyphs" fill="#1e1e1e" color="#1e1e1e">&gt;75%</text>
<path d="M306.4,226.3 H307.5 V239.4 H328.8 V250.9 H380.0 V251.8 H420.0 V252.6 H498.7 V287.5 H508.0 V287.5" fill="none" stroke="#5a5cb0" stroke-width="1.3" stroke-linejoin="miter" opacity="1"/>
<path d="M306.4,226.3 H308.5 V228.0 H311.0 V229.5 H326.0 V235.0 H330.0 V237.3 H337.4 V239.0 H343.2 V240.0 H363.7 V242.9 H380.0 V246.5 H419.4 V252.5 H500.0 V252.5" fill="none" stroke="#c4203e" stroke-width="1.4" stroke-linejoin="miter" opacity="1"/>
<ellipse cx="320.0" cy="231.0" rx="1.92" ry="1.60" fill="#c4203e"/>
<ellipse cx="358.2" cy="240.0" rx="1.92" ry="1.60" fill="#c4203e"/>
<ellipse cx="361.7" cy="240.0" rx="1.92" ry="1.60" fill="#c4203e"/>
<ellipse cx="382.1" cy="246.5" rx="1.92" ry="1.60" fill="#c4203e"/>
<ellipse cx="414.8" cy="246.5" rx="1.92" ry="1.60" fill="#c4203e"/>
<ellipse cx="378.0" cy="246.5" rx="1.92" ry="1.60" fill="#c4203e"/>
<path d="M306.4,226.3 H309.5 V227.6 H312.6 V228.9 H315.7 V230.2 H318.8 V231.4 H321.9 V232.7 H325.0 V234.0 H330.0 V237.0 H345.0 V239.0 H355.0 V241.0 H365.0 V243.7 H385.0 V245.8 H395.0 V248.6 H405.0 V250.2 H420.0 V252.5 H508.0 V252.5" fill="none" stroke="#23766a" stroke-width="1.7" stroke-linejoin="miter" opacity="1"/>
<ellipse cx="425.0" cy="252.5" rx="1.92" ry="1.60" fill="#23766a"/>
<ellipse cx="432.0" cy="252.5" rx="1.92" ry="1.60" fill="#23766a"/>
<ellipse cx="440.0" cy="252.5" rx="1.92" ry="1.60" fill="#23766a"/>
<ellipse cx="447.0" cy="252.5" rx="1.92" ry="1.60" fill="#23766a"/>
<ellipse cx="452.0" cy="252.5" rx="1.92" ry="1.60" fill="#23766a"/>
<ellipse cx="458.0" cy="252.5" rx="1.92" ry="1.60" fill="#23766a"/>
<ellipse cx="466.0" cy="252.5" rx="1.92" ry="1.60" fill="#23766a"/>
<ellipse cx="470.0" cy="252.5" rx="1.92" ry="1.60" fill="#23766a"/>
<ellipse cx="478.0" cy="252.5" rx="1.92" ry="1.60" fill="#23766a"/>
<ellipse cx="480.0" cy="252.5" rx="1.92" ry="1.60" fill="#23766a"/>
<ellipse cx="490.0" cy="252.5" rx="1.92" ry="1.60" fill="#23766a"/>
<ellipse cx="333.0" cy="237.0" rx="1.92" ry="1.60" fill="#23766a"/>
<ellipse cx="340.0" cy="239.0" rx="1.92" ry="1.60" fill="#23766a"/>
<ellipse cx="348.0" cy="239.0" rx="1.92" ry="1.60" fill="#23766a"/>
<ellipse cx="357.0" cy="241.0" rx="1.92" ry="1.60" fill="#23766a"/>
<ellipse cx="368.0" cy="243.7" rx="1.92" ry="1.60" fill="#23766a"/>
<ellipse cx="375.0" cy="243.7" rx="1.92" ry="1.60" fill="#23766a"/>
<ellipse cx="389.0" cy="245.8" rx="1.92" ry="1.60" fill="#23766a"/>
<ellipse cx="398.0" cy="248.6" rx="1.92" ry="1.60" fill="#23766a"/>
<ellipse cx="410.0" cy="250.2" rx="1.92" ry="1.60" fill="#23766a"/>
<path d="M504,250 L509,252.5 L504,255 Z" fill="#23766a"/>
<path d="M306.4,226.3 H308.8 V228.4 H311.3 V230.5 H313.7 V232.7 H316.1 V234.8 H318.6 V236.9 H321.0 V239.0 H323.7 V241.4 H326.4 V243.8 H329.0 V246.1 H331.7 V248.5 H336.3 V249.4 H340.9 V250.3 H345.4 V251.2 H350.0 V252.0 H354.6 V252.9 H359.2 V253.8 H371.9 V254.9 H380.3 V256.0 H384.6 V258.0 H388.8 V260.2 H433.8 V264.0 H440.8 V269.0 H474.6 V282.8 H502.3 V282.8" fill="none" stroke="#4a2c12" stroke-width="2.0" stroke-linejoin="miter" opacity="1"/>
<ellipse cx="332.3" cy="247.7" rx="1.92" ry="1.60" fill="#4a2c12"/>
<ellipse cx="345.0" cy="251.0" rx="1.92" ry="1.60" fill="#4a2c12"/>
<ellipse cx="350.0" cy="252.5" rx="1.92" ry="1.60" fill="#4a2c12"/>
<ellipse cx="362.0" cy="253.6" rx="1.92" ry="1.60" fill="#4a2c12"/>
<ellipse cx="370.0" cy="255.6" rx="1.92" ry="1.60" fill="#4a2c12"/>
<ellipse cx="376.0" cy="255.6" rx="1.92" ry="1.60" fill="#4a2c12"/>
<ellipse cx="437.0" cy="264.0" rx="1.92" ry="1.60" fill="#4a2c12"/>
<ellipse cx="444.5" cy="269.0" rx="1.92" ry="1.60" fill="#4a2c12"/>
<ellipse cx="448.5" cy="269.0" rx="1.92" ry="1.60" fill="#4a2c12"/>
<ellipse cx="452.5" cy="269.0" rx="1.92" ry="1.60" fill="#4a2c12"/>
<ellipse cx="456.3" cy="269.0" rx="1.92" ry="1.60" fill="#4a2c12"/>
<ellipse cx="460.5" cy="269.0" rx="1.92" ry="1.60" fill="#4a2c12"/>
<ellipse cx="465.6" cy="269.0" rx="1.92" ry="1.60" fill="#4a2c12"/>
<ellipse cx="470.5" cy="269.0" rx="1.92" ry="1.60" fill="#4a2c12"/>
<ellipse cx="473.8" cy="269.0" rx="1.92" ry="1.60" fill="#4a2c12"/>
<ellipse cx="485.2" cy="282.8" rx="1.92" ry="1.60" fill="#4a2c12"/>
<ellipse cx="491.7" cy="282.8" rx="1.92" ry="1.60" fill="#4a2c12"/>
<ellipse cx="501.5" cy="282.8" rx="1.92" ry="1.60" fill="#4a2c12"/>
</svg>
</body></html>
